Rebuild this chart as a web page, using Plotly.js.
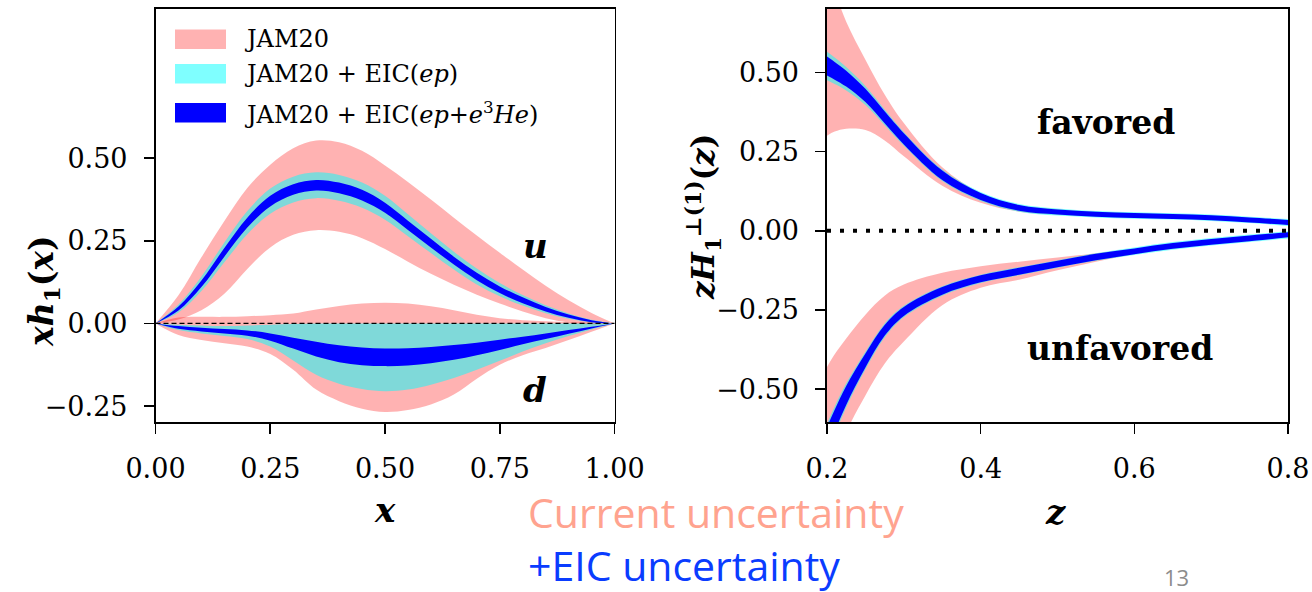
<!DOCTYPE html>
<html>
<head>
<meta charset="utf-8">
<script src="https://cdn.plot.ly/plotly-3.0.1.min.js"></script>
<style>
  html, body { margin: 0; padding: 0; background: #ffffff; }
  #chart { width: 1312px; height: 592px; }
</style>
</head>
<body>
<div id="chart"></div>
<script>
// ---------- transversity x h1(x): grid in x ----------
const xGrid = [0, 0.05, 0.1, 0.15, 0.2, 0.25, 0.3, 0.35, 0.4, 0.45, 0.5,
               0.55, 0.6, 0.65, 0.7, 0.75, 0.8, 0.85, 0.9, 0.95, 1.0];

// u quark bands
const uJamLo  = [0, 0.012, 0.04, 0.09, 0.165, 0.23, 0.268, 0.282, 0.277, 0.258, 0.225,
                 0.187, 0.15, 0.117, 0.087, 0.06, 0.036, 0.016, 0.003, -0.003, 0];
const uJamHi  = [0, 0.085, 0.2, 0.31, 0.41, 0.48, 0.53, 0.553, 0.548, 0.522, 0.478,
                 0.428, 0.375, 0.32, 0.266, 0.214, 0.163, 0.114, 0.07, 0.032, 0];
const uEpLo   = [0, 0.033, 0.098, 0.185, 0.27, 0.332, 0.366, 0.379, 0.371, 0.35, 0.314,
                 0.264, 0.213, 0.163, 0.118, 0.082, 0.054, 0.031, 0.014, 0.003, 0];
const uEpHi   = [0, 0.057, 0.142, 0.245, 0.34, 0.408, 0.444, 0.457, 0.449, 0.426, 0.386,
                 0.33, 0.273, 0.217, 0.166, 0.122, 0.086, 0.055, 0.03, 0.011, 0];
const uEpHeLo = [0, 0.039, 0.11, 0.202, 0.29, 0.354, 0.389, 0.402, 0.394, 0.372, 0.335,
                 0.283, 0.23, 0.178, 0.131, 0.092, 0.061, 0.036, 0.017, 0.004, 0];
const uEpHeHi = [0, 0.051, 0.13, 0.228, 0.32, 0.386, 0.421, 0.434, 0.426, 0.404, 0.365,
                 0.311, 0.256, 0.202, 0.153, 0.112, 0.079, 0.05, 0.027, 0.01, 0];

// d quark bands
const dJamLo  = [0, -0.035, -0.05, -0.06, -0.07, -0.092, -0.14, -0.2, -0.235, -0.258, -0.268,
                 -0.262, -0.245, -0.215, -0.167, -0.125, -0.096, -0.074, -0.05, -0.025, 0];
const dJamHi  = [0, 0.018, 0.02, 0.02, 0.022, 0.025, 0.03, 0.042, 0.053, 0.06, 0.063,
                 0.06, 0.052, 0.04, 0.026, 0.016, 0.01, 0.007, 0.004, 0.002, 0];
const dEpLo   = [0, -0.02, -0.03, -0.038, -0.047, -0.07, -0.112, -0.155, -0.182, -0.198, -0.205,
                 -0.2, -0.185, -0.165, -0.14, -0.113, -0.085, -0.06, -0.038, -0.018, 0];
const dEpHi   = [0, -0.004, -0.006, -0.008, -0.006, -0.004, -0.002, 0, 0, 0, 0,
                 0, 0, 0, 0, 0, 0, 0, 0, 0, 0];
const dEpHeLo = [0, -0.016, -0.024, -0.03, -0.037, -0.052, -0.076, -0.1, -0.117, -0.126, -0.129,
                 -0.127, -0.12, -0.11, -0.096, -0.08, -0.063, -0.047, -0.031, -0.015, 0];
const dEpHeHi = [0, -0.008, -0.013, -0.017, -0.021, -0.03, -0.043, -0.055, -0.066, -0.073, -0.076,
                 -0.075, -0.071, -0.065, -0.058, -0.049, -0.04, -0.03, -0.02, -0.01, 0];

// ---------- Collins function z H1(1)(z): grid in z ----------
const zGrid = [0.2, 0.21, 0.225, 0.25, 0.275, 0.3, 0.35, 0.4, 0.45, 0.5,
               0.55, 0.6, 0.65, 0.7, 0.75, 0.8];

// favored
const favJamLo  = [0.3, 0.313, 0.322, 0.318, 0.285, 0.235, 0.142, 0.088, 0.06, 0.05,
                   0.045, 0.041, 0.038, 0.034, 0.028, 0.02];
const favJamHi  = [0.85, 0.76, 0.66, 0.54, 0.43, 0.34, 0.2, 0.118, 0.08, 0.068,
                   0.06, 0.055, 0.051, 0.047, 0.04, 0.032];
const favEpLo   = [0.475, 0.463, 0.443, 0.397, 0.333, 0.268, 0.157, 0.094, 0.06, 0.048,
                   0.042, 0.038, 0.035, 0.031, 0.024, 0.015];
const favEpHi   = [0.565, 0.547, 0.517, 0.457, 0.383, 0.312, 0.193, 0.122, 0.084, 0.07,
                   0.062, 0.058, 0.055, 0.051, 0.044, 0.037];
const favEpHeLo = [0.49, 0.477, 0.455, 0.406, 0.339, 0.272, 0.16, 0.097, 0.063, 0.051,
                   0.044, 0.04, 0.037, 0.033, 0.026, 0.018];
const favEpHeHi = [0.55, 0.533, 0.505, 0.448, 0.377, 0.308, 0.19, 0.119, 0.081, 0.067,
                   0.06, 0.056, 0.053, 0.049, 0.042, 0.034];

// unfavored
const unfJamLo  = [-0.9, -0.78, -0.64, -0.52, -0.42, -0.35, -0.235, -0.18, -0.155, -0.125,
                   -0.098, -0.074, -0.057, -0.043, -0.031, -0.02];
const unfJamHi  = [-0.43, -0.39, -0.34, -0.265, -0.205, -0.17, -0.133, -0.112, -0.098, -0.085,
                   -0.071, -0.058, -0.043, -0.031, -0.02, -0.009];
const unfEpLo   = [-0.71, -0.645, -0.558, -0.438, -0.337, -0.273, -0.205, -0.165, -0.141, -0.117,
                   -0.095, -0.077, -0.06, -0.047, -0.036, -0.025];
const unfEpHi   = [-0.61, -0.555, -0.482, -0.382, -0.293, -0.237, -0.175, -0.139, -0.115, -0.093,
                   -0.071, -0.053, -0.036, -0.023, -0.012, -0.002];
const unfEpHeLo = [-0.7, -0.635, -0.55, -0.432, -0.332, -0.269, -0.202, -0.163, -0.139, -0.115,
                   -0.093, -0.074, -0.057, -0.044, -0.033, -0.021];
const unfEpHeHi = [-0.62, -0.565, -0.49, -0.388, -0.298, -0.241, -0.178, -0.141, -0.117, -0.095,
                   -0.073, -0.056, -0.039, -0.026, -0.015, -0.005];

// legend labels
const legendLabels = [
  'JAM20',
  'JAM20 + EIC(<i>ep</i>)',
  'JAM20 + EIC(<i>ep</i>+<i>e</i><sup>3</sup><i>He</i>)'
];

// ---------- styling ----------
const W = 1312, H = 592;
const PINK = 'rgba(255,0,0,0.3)';
const CYAN = 'rgba(0,255,255,0.5)';
const BLUE = 'rgb(0,0,255)';
const SERIF = 'DejaVu Serif';

const px = v => v / W;           // pixel -> paper x
const py = v => 1 - v / H;       // pixel -> paper y

function band(x, lo, hi, color, xa, ya) {
  const common = {
    x: x, type: 'scatter', mode: 'lines', xaxis: xa, yaxis: ya,
    line: { width: 0, shape: 'spline', smoothing: 1 },
    hoverinfo: 'skip', showlegend: false
  };
  return [
    Object.assign({}, common, { y: lo }),
    Object.assign({}, common, { y: hi, fill: 'tonexty', fillcolor: color })
  ];
}

const traces = [].concat(
  band(xGrid, uJamLo, uJamHi, PINK, 'x', 'y'),
  band(xGrid, dJamLo, dJamHi, PINK, 'x', 'y'),
  band(xGrid, uEpLo, uEpHi, CYAN, 'x', 'y'),
  band(xGrid, dEpLo, dEpHi, CYAN, 'x', 'y'),
  band(xGrid, uEpHeLo, uEpHeHi, BLUE, 'x', 'y'),
  band(xGrid, dEpHeLo, dEpHeHi, BLUE, 'x', 'y'),
  band(zGrid, favJamLo, favJamHi, PINK, 'x2', 'y2'),
  band(zGrid, unfJamLo, unfJamHi, PINK, 'x2', 'y2'),
  band(zGrid, favEpLo, favEpHi, CYAN, 'x2', 'y2'),
  band(zGrid, unfEpLo, unfEpHi, CYAN, 'x2', 'y2'),
  band(zGrid, favEpHeLo, favEpHeHi, BLUE, 'x2', 'y2'),
  band(zGrid, unfEpHeLo, unfEpHeHi, BLUE, 'x2', 'y2')
);

const axisBase = {
  showgrid: false, zeroline: false,
  showline: true, mirror: true, linecolor: '#000', linewidth: 1.6,
  ticks: 'outside', ticklen: 10, tickwidth: 1.6, tickcolor: '#000',
  tickfont: { family: SERIF, size: 27, color: '#000' },
  fixedrange: true
};

const yDomain = [py(422), py(9)];

const layout = {
  width: W, height: H,
  margin: { l: 0, r: 0, t: 0, b: 0 },
  paper_bgcolor: '#fff', plot_bgcolor: '#fff',
  showlegend: false,
  xaxis: Object.assign({}, axisBase, {
    domain: [px(155.5), px(614.5)], range: [0, 1],
    tickvals: [0, 0.25, 0.5, 0.75, 1], tickformat: '.2f', anchor: 'y',
    ticklabelstandoff: 12
  }),
  yaxis: Object.assign({}, axisBase, {
    domain: yDomain, range: [-0.298, 0.951],
    tickvals: [-0.25, 0, 0.25, 0.5], tickformat: '.2f', anchor: 'x',
    ticklabelstandoff: 11
  }),
  xaxis2: Object.assign({}, axisBase, {
    domain: [px(827), px(1288)], range: [0.2, 0.8],
    tickvals: [0.2, 0.4, 0.6, 0.8], tickformat: '.1f', anchor: 'y2',
    ticklabelstandoff: 12
  }),
  yaxis2: Object.assign({}, axisBase, {
    domain: yDomain, range: [-0.604, 0.70],
    tickvals: [-0.5, -0.25, 0, 0.25, 0.5], tickformat: '.2f', anchor: 'x2',
    ticklabelstandoff: 11
  }),
  shapes: [
    // zero reference lines
    { type: 'line', xref: 'x domain', yref: 'y', x0: 0, x1: 1, y0: 0, y1: 0,
      line: { color: '#000', width: 1.3, dash: '5px,3px' } },
    { type: 'line', xref: 'x2 domain', yref: 'y2', x0: 0, x1: 1, y0: 0, y1: 0,
      line: { color: '#000', width: 4, dash: '4px,9px' } },
    // legend swatches
    { type: 'rect', xref: 'paper', yref: 'paper', x0: px(175), x1: px(226), y0: py(49), y1: py(29.5),
      fillcolor: PINK, line: { width: 0 } },
    { type: 'rect', xref: 'paper', yref: 'paper', x0: px(175), x1: px(226), y0: py(83.5), y1: py(64),
      fillcolor: CYAN, line: { width: 0 } },
    { type: 'rect', xref: 'paper', yref: 'paper', x0: px(175), x1: px(226), y0: py(122.5), y1: py(103),
      fillcolor: BLUE, line: { width: 0 } }
  ],
  annotations: []
};

function note(text, x, y, opts) {
  layout.annotations.push(Object.assign({
    text: text, xref: 'paper', yref: 'paper', x: px(x), y: py(y),
    showarrow: false, xanchor: 'center', yanchor: 'middle', borderpad: 0,
    font: { family: SERIF, size: 27, color: '#000' }
  }, opts || {}));
}

// legend text
const legendY = [39, 74, 113];
legendLabels.forEach((t, i) => note(t, 243, legendY[i],
  { xanchor: 'left', font: { family: SERIF, size: 24, color: '#000' } }));

// axis titles
note('<b><i>xh</i><sub>1</sub>(<i>x</i>)</b>', 43, 291,
  { textangle: -90, font: { family: SERIF, size: 33, color: '#000' } });
note('<b><i>x</i></b>', 385, 510, { font: { family: SERIF, size: 34, color: '#000' } });
note('<b><i>zH</i><sub>1</sub><sup>⊥(1)</sup>(<i>z</i>)</b>', 703, 217,
  { textangle: -90, font: { family: SERIF, size: 31, color: '#000' } });
note('<b><i>z</i></b>', 1055, 512, { font: { family: SERIF, size: 34, color: '#000' } });

// flavour labels
note('<b><i>u</i></b>', 535, 246, { font: { family: SERIF, size: 34, color: '#000' } });
note('<b><i>d</i></b>', 535, 390, { font: { family: SERIF, size: 34, color: '#000' } });
note('<b>favored</b>', 1106, 122, { font: { family: SERIF, size: 33, color: '#000' } });
note('<b>unfavored</b>', 1120, 348, { font: { family: SERIF, size: 33, color: '#000' } });

// slide captions (one two-line block)
note('<span style="color:#ffa38f">Current uncertainty</span><br>' +
     '<span style="color:#0a3cff">+EIC uncertainty</span>', 527, 538,
  { xanchor: 'left', align: 'left', font: { family: 'Open Sans', size: 41, color: '#ffa38f' } });
note('13', 1176, 577, { font: { family: 'Open Sans', size: 22, color: '#8c8c8c' } });

Plotly.newPlot('chart', traces, layout, { displayModeBar: false, staticPlot: true });
</script>
</body>
</html>
